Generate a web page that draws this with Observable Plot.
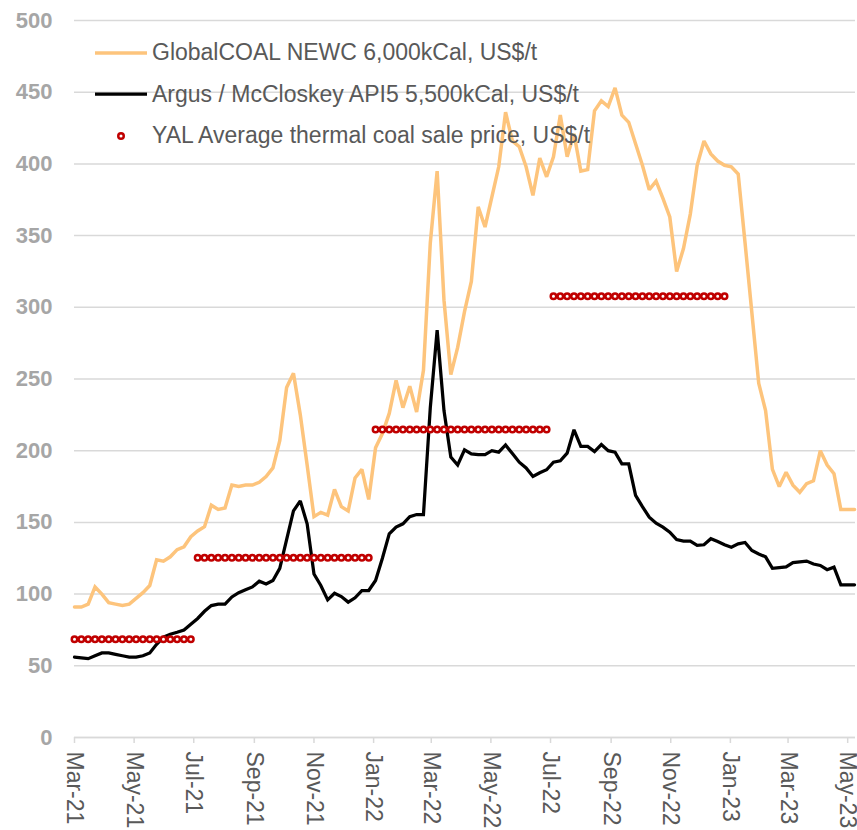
<!DOCTYPE html>
<html>
<head>
<meta charset="utf-8">
<script src="https://cdn.jsdelivr.net/npm/d3@7"></script>
<script src="https://cdn.jsdelivr.net/npm/@observablehq/plot@0.6"></script>
<style>
  body { margin: 0; background: #fff; font-family: "Liberation Sans", Arial, sans-serif; }
  #wrap { position: relative; width: 857px; height: 830px; }
  #legend { position: absolute; left: 95px; top: 32px; color: #595959; font-size: 23px; }
  .row { display: flex; align-items: center; height: 41.5px; white-space: nowrap; }
  .row svg { margin-right: 5px; flex: none; }
</style>
</head>
<body>
<div id="wrap"></div>
<script>
// ---- Data ----
const weekStart = "2021-03-01"; // first weekly observation
const seriesNames = [
  "GlobalCOAL NEWC 6,000kCal, US$/t",
  "Argus / McCloskey API5 5,500kCal, US$/t",
  "YAL Average thermal coal sale price, US$/t"
];
// GlobalCOAL NEWC weekly, US$/t
const newc = [
  91, 91, 93, 105, 100, 94, 93, 92, 93, 97, 101, 106,
  124, 123, 126, 131, 133, 140, 144, 147, 162, 159, 160, 176,
  175, 176, 176, 178, 182, 188, 207, 244, 254, 225, 190, 154,
  157, 155, 173, 161, 158, 181, 187, 166, 202, 212, 226, 249,
  230, 245, 227, 256, 345, 395, 305, 253, 272, 297, 318, 370,
  356, 377, 398, 436, 416, 412, 398, 378, 404, 391, 405, 434,
  405, 421, 395, 396, 437, 444, 440, 453, 434, 429, 414, 399,
  382, 388, 376, 363, 325, 341, 365, 399, 416, 407, 402, 399,
  398, 393, 345, 296, 247, 228, 187, 175, 185, 176, 171, 177,
  179, 200, 190, 184, 159, 159, 159
];
// Argus / McCloskey API5 weekly, US$/t
const api5 = [
  56, 55.6, 55, 57, 59, 59, 58, 57, 56, 56, 57, 59,
  65, 70, 72, 73.4, 75, 79, 83, 88, 92, 93, 93, 98,
  101, 103, 105, 109, 107, 109.5, 118, 138, 158, 165, 149, 114,
  106, 96, 100.6, 98.3, 94.4, 97.4, 102.5, 102.5, 109.5, 125, 142, 146.7,
  149, 154, 155.5, 155.5, 230, 284, 228, 195.5, 190, 200.6, 197.8, 197.3,
  197.3, 200, 199, 204, 198, 192, 188, 182, 184.6, 186.7, 192, 193,
  198.3, 214.6, 203, 203, 199.4, 204.3, 200, 199, 190.8, 190.8, 168.8, 161,
  153.6, 149.4, 146.7, 143.2, 138, 137, 137, 134, 134.4, 138.6, 136.7, 134.4,
  132.7, 135, 136, 130.4, 128, 126, 118, 118.5, 119, 122, 122.5, 123,
  121, 120, 117, 118.8, 106.5, 106.5, 106.5
];
// YAL average realised thermal price by half-year period (week index ranges)
const yalPrice = [68.5, 125.3, 214.8, 307.7];
const yalFirstWeek = [0, 18, 44, 70];
const yalLastWeek = [17, 43, 69, 95];
// x tick labels
const xTicks = ["2021-03-01","2021-05-01","2021-07-01","2021-09-01","2021-11-01","2022-01-01",
  "2022-03-01","2022-05-01","2022-07-01","2022-09-01","2022-11-01","2023-01-01","2023-03-01","2023-05-01"];
const yTicks = [0, 50, 100, 150, 200, 250, 300, 350, 400, 450, 500];
const xDomain = ["2021-03-01", "2023-05-09"];

// ---- Build tables ----
const start = new Date(weekStart);
const weekDate = i => d3.utcDay.offset(start, 7 * i);
const newcData = newc.map((v, i) => ({date: weekDate(i), value: v}));
const api5Data = api5.map((v, i) => ({date: weekDate(i), value: v}));
const yalData = [];
yalPrice.forEach((v, k) => {
  for (let i = yalFirstWeek[k]; i <= yalLastWeek[k]; i++) yalData.push({date: weekDate(i), value: v});
});

const colors = {newc: "#fdc47c", api5: "#000000", yal: "#c00000"};
const font = "'Liberation Sans', Arial, sans-serif";

const chart = Plot.plot({
  width: 857,
  height: 830,
  marginLeft: 74,
  marginRight: 2,
  marginTop: 20,
  marginBottom: 93,
  style: {fontFamily: font, background: "#fff"},
  x: {type: "utc", domain: xDomain.map(d => new Date(d))},
  y: {domain: [0, 500]},
  marks: [
    Plot.gridY(yTicks, {stroke: "#d9d9d9", strokeOpacity: 1, strokeWidth: 1.5}),
    Plot.axisY(yTicks, {tickSize: 0, tickPadding: 22, fontSize: 22, fontWeight: "bold", fill: "#a6a6a6", label: null}),
    Plot.ruleY([0], {stroke: "#d9d9d9", strokeWidth: 1.5}),
    Plot.axisX(xTicks.map(d => new Date(d)), {tickFormat: d3.utcFormat("%b-%y"), tickRotate: 90, tickSize: 6,
      tickPadding: 8, stroke: "#d9d9d9", strokeWidth: 1.5, fill: "#595959", fontSize: 23, label: null}),
    Plot.line(newcData, {x: "date", y: "value", stroke: colors.newc, strokeWidth: 3.5, strokeLinejoin: "miter", strokeMiterlimit: 2}),
    Plot.line(api5Data, {x: "date", y: "value", stroke: colors.api5, strokeWidth: 3.25, strokeLinejoin: "miter", strokeMiterlimit: 2}),
    Plot.dot(yalData, {x: "date", y: "value", r: 2.75, stroke: colors.yal, strokeWidth: 2.5, fill: "#fff"})
  ]
});

const wrap = document.getElementById("wrap");
wrap.appendChild(chart);

// Legend
const legend = document.createElement("div");
legend.id = "legend";
const swatches = [
  `<svg width="52" height="10"><line x1="0" x2="52" y1="5" y2="5" stroke="${colors.newc}" stroke-width="3.5"/></svg>`,
  `<svg width="52" height="10"><line x1="0" x2="52" y1="5" y2="5" stroke="${colors.api5}" stroke-width="3.25"/></svg>`,
  `<svg width="52" height="12"><circle cx="26" cy="6" r="2.75" fill="#fff" stroke="${colors.yal}" stroke-width="2.5"/></svg>`
];
legend.innerHTML = seriesNames.map((n, i) => `<div class="row">${swatches[i]}<span>${n}</span></div>`).join("");
wrap.appendChild(legend);
</script>
</body>
</html>
